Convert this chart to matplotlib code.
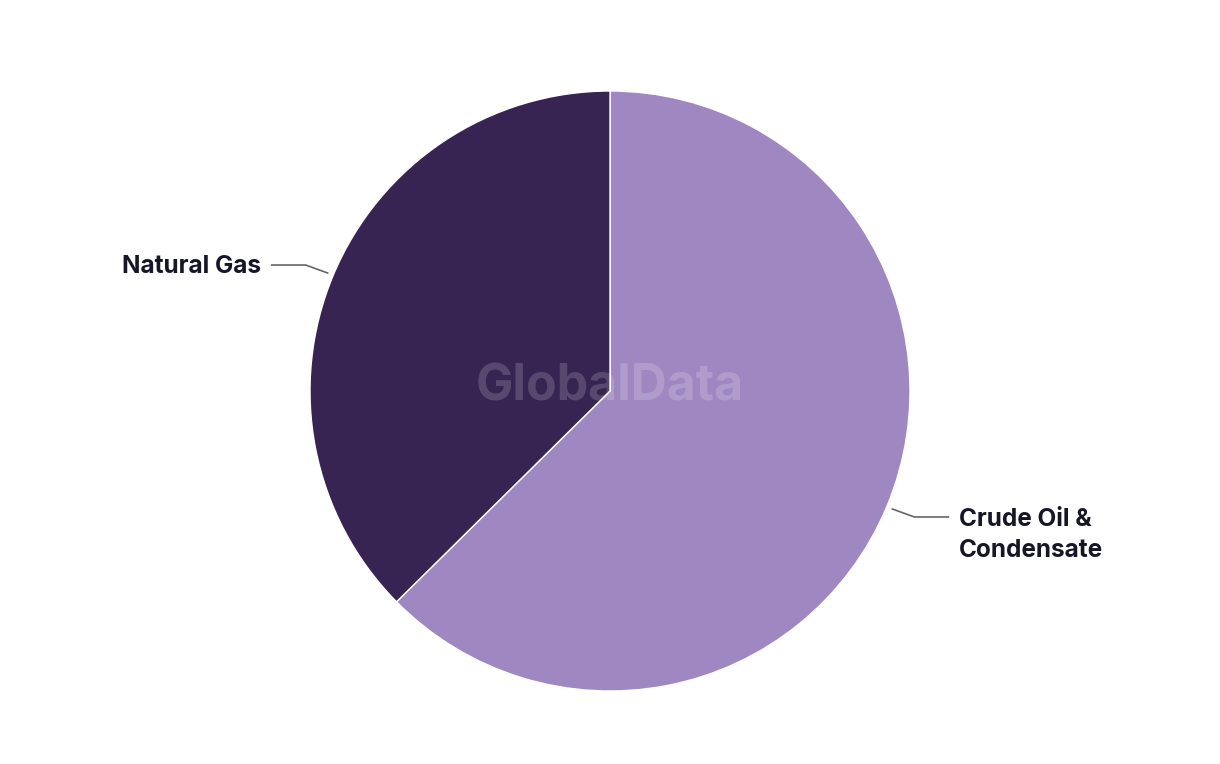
import numpy as np
import matplotlib.pyplot as plt

plt.rcParams['font.family'] = ['Inter', 'DejaVu Sans']

# data (share of production, %)
labels = ['Crude Oil &\nCondensate', 'Natural Gas']
shares = [62.6, 37.4]
colors = ['#9f88c1', '#372453']

W, H = 1220, 764
fig = plt.figure(figsize=(W / 100, H / 100), dpi=100)
ax = fig.add_axes([0, 0, 1, 1])

cx, cy, r = 610, H - 391, 300
wedges, _ = ax.pie(shares, colors=colors, startangle=90, counterclock=False,
                   center=(cx, cy), radius=r, frame=True,
                   wedgeprops=dict(edgecolor='white', linewidth=1))
ax.set_xlim(0, W)
ax.set_ylim(0, H)
ax.set_aspect('equal')
ax.axis('off')

# leader lines + labels
for w, lab in zip(wedges, labels):
    ang = np.deg2rad((w.theta1 + w.theta2) / 2)
    x0 = cx + (r + 6) * np.cos(ang)
    y0 = cy + (r + 6) * np.sin(ang)
    side = 1 if np.cos(ang) > 0 else -1
    x1 = x0 + side * 22
    y1 = y0 + 8 * np.sign(np.sin(ang))
    x2 = x1 + side * 34
    ax.plot([x0, x1, x2], [y0, y1, y1], color='#666666', lw=1.2)
    if '\n' in lab:
        ax.text(x2 + side * 11, y1 + 9, lab, ha='left', va='top',
                fontsize=17.5, fontweight='bold', color='#161627',
                linespacing=1.42)
    else:
        ax.text(x2 + side * 11, y1 - 1, lab, ha='right' if side < 0 else 'left',
                va='center', fontsize=17.5, fontweight='bold', color='#161627')

# watermark
ax.text(cx, H - 387, 'GlobalData', ha='center', va='center', fontsize=36,
        fontweight='bold', color='white', alpha=0.17)

fig.savefig('out.png', dpi=100)
